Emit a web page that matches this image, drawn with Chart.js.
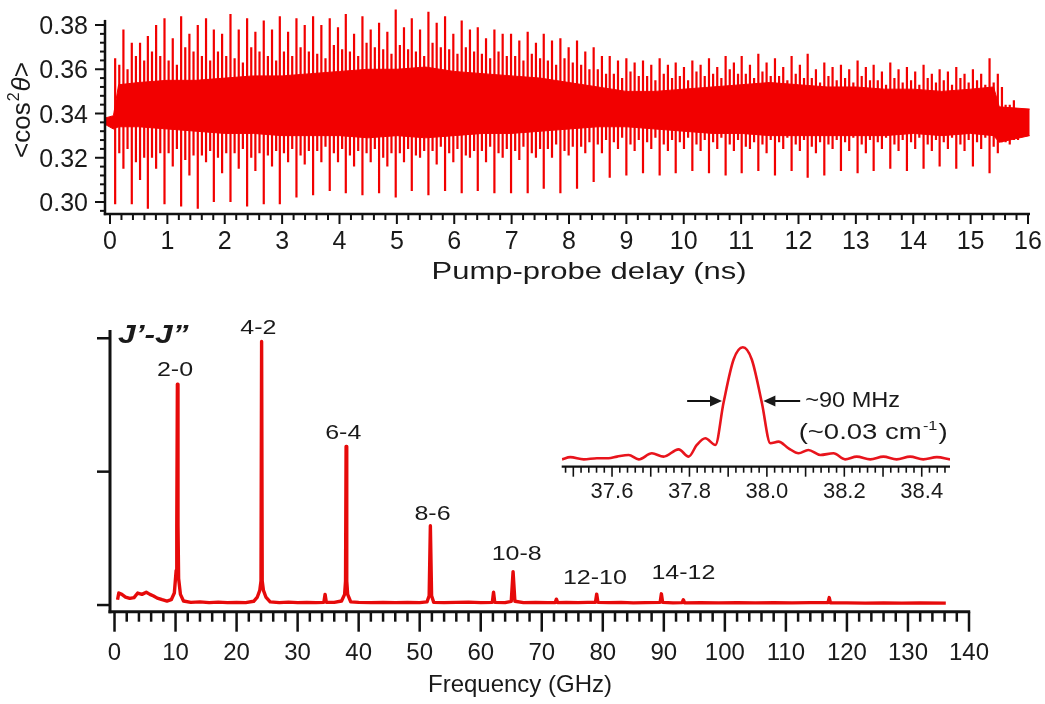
<!DOCTYPE html>
<html><head><meta charset="utf-8">
<script src="https://cdn.jsdelivr.net/npm/chart.js@4.4.1/dist/chart.umd.min.js"></script>
<style>
html,body{margin:0;padding:0;background:#fff;}
#wrap{position:relative;width:1045px;height:704px;overflow:hidden;background:#fff;}
canvas{position:absolute;}
</style></head><body>
<div id="wrap">
<canvas id="top" width="1045" height="300" style="left:0;top:0;width:1045px;height:300px"></canvas>
<canvas id="spec" width="1045" height="404" style="left:0;top:300px;width:1045px;height:404px"></canvas>
<canvas id="inset" width="440" height="190" style="left:540px;top:320px;width:440px;height:190px"></canvas>
</div>
<script>
// ---------- top panel: <cos^2 theta> vs pump-probe delay ----------
const topDelayTicks = [0,1,2,3,4,5,6,7,8,9,10,11,12,13,14,15,16];
const topCosTicks = [0.30,0.32,0.34,0.36,0.38];
const revivalTime = [0.09,0.38,0.66,0.95,1.24,1.53,1.81,2.10,2.39,2.68,2.96,3.25,3.54,3.83,4.11,4.40,4.69,4.98,5.26,5.55,5.84,6.13,6.41,6.70,6.99,7.28,7.56,7.85,8.14,8.43,8.71,9.00,9.29,9.58,9.86,10.15,10.44,10.73,11.01,11.30,11.59,11.88,12.16,12.45,12.74,13.03,13.31,13.60,13.89,14.18,14.46,14.75,15.04,15.33,15.61];
const fullHigh = [0.365,0.372,0.375,0.383,0.384,0.380,0.378,0.385,0.383,0.382,0.384,0.383,0.384,0.383,0.385,0.384,0.381,0.387,0.383,0.386,0.384,0.382,0.379,0.378,0.376,0.377,0.376,0.374,0.373,0.370,0.366,0.365,0.364,0.365,0.363,0.364,0.365,0.366,0.366,0.367,0.365,0.366,0.367,0.363,0.362,0.364,0.362,0.363,0.361,0.362,0.360,0.361,0.360,0.365,0.344];
const fullLow = [0.299,0.299,0.297,0.299,0.298,0.297,0.300,0.300,0.298,0.299,0.299,0.302,0.303,0.305,0.304,0.303,0.304,0.302,0.305,0.303,0.305,0.304,0.305,0.304,0.304,0.304,0.306,0.304,0.306,0.309,0.311,0.312,0.313,0.312,0.313,0.314,0.313,0.312,0.313,0.314,0.312,0.314,0.311,0.312,0.314,0.313,0.314,0.315,0.314,0.315,0.316,0.315,0.316,0.313,0.327];
const halfHigh = [0.378,0.372,0.380,0.374,0.376,0.383,0.376,0.378,0.377,0.378,0.377,0.380,0.380,0.379,0.376,0.378,0.377,0.379,0.378,0.381,0.376,0.378,0.374,0.376,0.373,0.372,0.373,0.370,0.368,0.366,0.364,0.363,0.362,0.362,0.361,0.362,0.361,0.363,0.362,0.363,0.361,0.362,0.360,0.361,0.360,0.361,0.359,0.360,0.359,0.358,0.359,0.358,0.358,0.358,0.346];
const halfLow = [0.315,0.310,0.315,0.316,0.312,0.318,0.313,0.315,0.314,0.316,0.318,0.317,0.318,0.318,0.316,0.318,0.316,0.318,0.320,0.317,0.318,0.320,0.318,0.320,0.319,0.320,0.320,0.321,0.322,0.322,0.324,0.323,0.324,0.323,0.324,0.323,0.324,0.323,0.324,0.322,0.324,0.323,0.322,0.324,0.323,0.322,0.324,0.323,0.324,0.323,0.324,0.323,0.324,0.322,0.328];
const quarterHigh = [0.362,0.366,0.368,0.364,0.370,0.366,0.368,0.365,0.370,0.366,0.368,0.370,0.367,0.371,0.368,0.372,0.369,0.371,0.368,0.372,0.369,0.370,0.367,0.368,0.366,0.367,0.364,0.365,0.362,0.360,0.358,0.359,0.357,0.358,0.357,0.359,0.358,0.360,0.358,0.359,0.357,0.358,0.356,0.357,0.356,0.357,0.355,0.356,0.355,0.356,0.355,0.356,0.355,0.354,0.344];
const quarterLow = [0.322,0.318,0.320,0.322,0.319,0.321,0.320,0.322,0.320,0.321,0.322,0.321,0.323,0.322,0.321,0.322,0.320,0.322,0.321,0.323,0.322,0.321,0.323,0.322,0.323,0.322,0.324,0.323,0.325,0.326,0.327,0.326,0.327,0.326,0.327,0.326,0.327,0.326,0.325,0.326,0.327,0.326,0.325,0.326,0.327,0.326,0.327,0.326,0.327,0.326,0.327,0.326,0.327,0.325,0.326];
const bandTime = [-0.08,0.06,0.15,0.5,1,1.5,2,2.5,3,3.5,4,4.5,5,5.5,6,6.5,7,7.5,8,8.5,9,9.5,10,10.5,11,11.5,12,12.5,13,13.5,14,14.5,15,15.4,15.5,16.03];
const bandTop = [0.338,0.339,0.353,0.354,0.355,0.355,0.356,0.357,0.357,0.358,0.359,0.360,0.360,0.361,0.359,0.358,0.357,0.356,0.354,0.352,0.350,0.350,0.351,0.352,0.353,0.354,0.353,0.352,0.352,0.351,0.351,0.350,0.351,0.352,0.343,0.342];
const bandBottom = [0.335,0.333,0.334,0.334,0.333,0.332,0.331,0.331,0.330,0.330,0.330,0.329,0.330,0.329,0.330,0.331,0.331,0.332,0.333,0.334,0.334,0.333,0.332,0.331,0.331,0.330,0.330,0.330,0.330,0.330,0.331,0.330,0.331,0.330,0.327,0.330];

// ---------- bottom panel: Fourier spectrum ----------
const specFreqTicks = [0,10,20,30,40,50,60,70,80,90,100,110,120,130,140];
const specAmpTicks = [0,0.5,1.0];
const specFreq = [0.5,0.7,1.2,1.8,2.5,3.2,3.8,4.5,5.2,5.8,6.4,7.0,7.8,8.6,9.3,9.8,10.1,10.2,10.3,10.4,10.5,10.8,11.3,12.5,14.0,15.5,17.0,18.5,20.0,21.5,22.8,23.4,23.8,24.0,24.1,24.2,24.4,24.8,25.5,27.0,28.5,30.0,31.5,33.0,34.3,34.5,34.7,36.0,37.2,37.7,37.85,37.94,38.05,38.2,38.7,40.0,42.0,44.0,46.0,48.0,50.0,51.2,51.55,51.75,51.95,52.3,54.0,56.0,58.0,60.0,61.9,62.1,62.3,64.0,65.0,65.3,65.6,67.0,69.0,71.0,72.2,72.4,72.6,74.0,76.0,77.5,78.8,79.0,79.2,81.0,83.0,85.0,87.0,89.4,89.6,89.8,91.5,93.0,93.2,93.4,96.0,99.0,102.0,105.0,108.0,111.0,114.0,116.9,117.1,117.3,120.0,123.0,126.0,129.0,132.0,136.2];
const specAmp = [0.020,0.045,0.040,0.030,0.025,0.028,0.045,0.040,0.048,0.040,0.034,0.026,0.020,0.015,0.020,0.045,0.130,0.300,0.828,0.300,0.100,0.040,0.015,0.010,0.012,0.009,0.011,0.009,0.010,0.009,0.014,0.030,0.055,0.090,0.988,0.090,0.055,0.030,0.012,0.009,0.011,0.009,0.010,0.009,0.010,0.040,0.010,0.010,0.015,0.040,0.090,0.594,0.090,0.040,0.012,0.010,0.009,0.010,0.009,0.010,0.009,0.012,0.035,0.297,0.035,0.010,0.009,0.010,0.011,0.009,0.010,0.048,0.010,0.009,0.014,0.125,0.014,0.009,0.010,0.009,0.009,0.022,0.009,0.010,0.009,0.010,0.010,0.041,0.010,0.009,0.010,0.008,0.009,0.010,0.042,0.010,0.008,0.009,0.020,0.008,0.009,0.008,0.009,0.008,0.009,0.008,0.009,0.009,0.028,0.008,0.008,0.007,0.008,0.007,0.008,0.007];
const peakLabels = ['2-0','4-2','6-4','8-6','10-8','12-10','14-12'];
const peakLabelFreq = [9.91,23.56,37.48,52.1,65.9,78.7,93.2];
const peakLabelAmp = [0.881,1.035,0.642,0.341,0.191,0.098,0.120];

// ---------- inset: 6-4 line ----------
const insetFreqTicks = [37.6,37.8,38.0,38.2,38.4];
const insetFreq = [37.471,37.492,37.527,37.561,37.591,37.613,37.643,37.669,37.703,37.733,37.772,37.798,37.819,37.841,37.867,37.888,37.914,37.938,37.961,37.987,38.009,38.030,38.056,38.082,38.107,38.138,38.172,38.202,38.232,38.267,38.301,38.335,38.370,38.404,38.439,38.473];
const insetAmp = [-0.01,0.01,-0.01,0.0,0.0,0.015,0.03,-0.01,0.045,0.015,0.08,0.015,0.12,0.18,0.12,0.5,0.89,1.0,0.89,0.5,0.136,0.15,0.09,0.045,0.075,0.03,0.045,-0.01,0.015,-0.01,0.015,-0.01,0.015,-0.01,0.01,-0.01];

// ---------- helpers ----------
const FONT = '"Liberation Sans", Arial, Helvetica, sans-serif';
const RED = '#f20000';
const INK = '#1a1a1a';
function seg(ctx, x1, y1, x2, y2) { ctx.beginPath(); ctx.moveTo(x1, y1); ctx.lineTo(x2, y2); ctx.stroke(); }
function txt(ctx, s, x, y, font, align, sx, base) {
  ctx.save(); ctx.font = font; ctx.textAlign = align || 'left'; ctx.textBaseline = base || 'alphabetic';
  ctx.translate(x, y); ctx.scale(sx || 1, 1); ctx.fillText(s, 0, 0); ctx.restore();
}
const common = { responsive: false, animation: false, devicePixelRatio: 1,
  plugins: { legend: { display: false }, tooltip: { enabled: false } } };

// spike table built from revival arrays
const spikePts = [];
revivalTime.forEach((t, k) => {
  const bars = [[t, fullLow[k], fullHigh[k]], [t + 0.072, quarterLow[k], quarterHigh[k]],
                [t + 0.144, halfLow[k], halfHigh[k]], [t + 0.216, quarterLow[k] + 0.002, quarterHigh[k] - 0.002]];
  bars.forEach(([x, lo, hi]) => { spikePts.push({x, y: lo}, {x, y: hi}, {x, y: null}); });
});

const TOP_AXIS_END = 0.3823;
const topAxes = {
  id: 'topAxes',
  afterDraw(chart) {
    const {ctx, chartArea: a, scales: {x, y}} = chart;
    ctx.save();
    ctx.strokeStyle = '#111'; ctx.fillStyle = INK;
    ctx.lineWidth = 2.5;
    seg(ctx, a.left, y.getPixelForValue(TOP_AXIS_END), a.left, a.bottom + 1.2);
    seg(ctx, a.left - 1.2, a.bottom, a.right, a.bottom);
    ctx.lineWidth = 2;
    for (let i = 74; i <= 95; i++) {
      const p = y.getPixelForValue(i * 0.004);
      seg(ctx, a.left, p, a.left - (i % 5 === 0 ? 10 : 5), p);
    }
    for (let i = 0; i <= 80; i++) {
      const p = x.getPixelForValue(i * 0.2);
      seg(ctx, p, a.bottom, p, a.bottom + (i % 5 === 0 ? 10 : 6));
    }
    const f = '25px ' + FONT;
    topCosTicks.forEach(v => txt(ctx, v.toFixed(2), a.left - 17, y.getPixelForValue(v) + 9, f, 'right'));
    topDelayTicks.forEach(v => txt(ctx, String(v), x.getPixelForValue(v), a.bottom + 35, f, 'center'));
    txt(ctx, 'Pump-probe delay (ns)', 589, 279, '24px ' + FONT, 'center', 1.29);
    // rotated y title <cos^2 theta>
    ctx.save();
    ctx.translate(30, 158); ctx.rotate(-Math.PI / 2);
    ctx.textBaseline = 'alphabetic'; ctx.textAlign = 'left';
    let cx = 0;
    ctx.font = '26px ' + FONT; ctx.fillText('<cos', cx, 0); cx += ctx.measureText('<cos').width;
    ctx.font = '16px ' + FONT; ctx.fillText('2', cx + 1, -11); cx += ctx.measureText('2').width + 2;
    ctx.font = 'italic 26px ' + FONT; ctx.fillText('θ', cx, 0); cx += ctx.measureText('θ').width;
    ctx.font = '26px ' + FONT; ctx.fillText('>', cx, 0);
    ctx.restore();
    ctx.restore();
  }
};

new Chart(document.getElementById('top'), {
  type: 'line',
  data: { datasets: [
    { data: bandTime.map((t, i) => ({x: t, y: bandBottom[i]})), borderColor: RED, borderWidth: 1, pointRadius: 0, fill: false },
    { data: bandTime.map((t, i) => ({x: t, y: bandTop[i]})), borderColor: RED, borderWidth: 1, pointRadius: 0, fill: '-1', backgroundColor: RED },
    { data: spikePts, borderColor: RED, borderWidth: 2.2, pointRadius: 0, spanGaps: false, fill: false }
  ]},
  options: Object.assign({}, common, {
    layout: { padding: { left: 105, top: 5, right: 15, bottom: 86 } },
    scales: {
      x: { type: 'linear', display: false, min: -0.087, max: 16.035 },
      y: { type: 'linear', display: false, min: 0.29458, max: 0.38904 }
    }
  }),
  plugins: [topAxes]
});

const specAxes = {
  id: 'specAxes',
  afterDraw(chart) {
    const {ctx, chartArea: a, scales: {x, y}} = chart;
    ctx.save();
    ctx.strokeStyle = '#111'; ctx.fillStyle = INK;
    ctx.lineWidth = 3;
    seg(ctx, a.left, a.top, a.left, a.bottom + 1.5);
    seg(ctx, a.left - 1.5, a.bottom, x.getPixelForValue(140) + 1.2, a.bottom);
    ctx.lineWidth = 2.5;
    specAmpTicks.forEach(v => { const p = y.getPixelForValue(v); seg(ctx, a.left, p, a.left - 13, p); });
    for (let i = 0; i <= 70; i++) {
      const p = x.getPixelForValue(i * 2);
      seg(ctx, p, a.bottom, p, a.bottom + (i % 5 === 0 ? 20 : 10));
    }
    specFreqTicks.forEach(v => txt(ctx, String(v), x.getPixelForValue(v), a.bottom + 48.3, '24px ' + FONT, 'center'));
    txt(ctx, 'Frequency (GHz)', 520, 391.7, '24px ' + FONT, 'center');
    peakLabels.forEach((s, i) => txt(ctx, s, x.getPixelForValue(peakLabelFreq[i]), y.getPixelForValue(peakLabelAmp[i]), '20px ' + FONT, 'center', 1.25, 'middle'));
    txt(ctx, 'J\u2019-J\u201D', x.getPixelForValue(0.57), y.getPixelForValue(0.982), 'italic bold 26px ' + FONT, 'left', 1.22);
    ctx.restore();
  }
};

new Chart(document.getElementById('spec'), {
  type: 'line',
  data: { datasets: [
    { data: specFreq.map((f, i) => ({x: f, y: specAmp[i]})), borderColor: '#e60a0a', borderWidth: 3.4, pointRadius: 0, borderJoinStyle: 'round', fill: false }
  ]},
  options: Object.assign({}, common, {
    layout: { padding: { left: 110, top: 30, right: 76, bottom: 92.3 } },
    scales: {
      x: { type: 'linear', display: false, min: -0.74, max: 140 },
      y: { type: 'linear', display: false, min: -0.025, max: 1.031 }
    }
  }),
  plugins: [specAxes]
});

function arrow(ctx, x1, y1, x2, y2) {
  const dir = Math.sign(x2 - x1);
  ctx.lineWidth = 2;
  seg(ctx, x1, y1, x2 - dir * 8, y2);
  ctx.beginPath(); ctx.moveTo(x2, y2); ctx.lineTo(x2 - dir * 12, y2 - 5.5); ctx.lineTo(x2 - dir * 12, y2 + 5.5); ctx.closePath(); ctx.fill();
}

const insetAxes = {
  id: 'insetAxes',
  afterDraw(chart) {
    const {ctx, chartArea: a, scales: {x, y}} = chart;
    ctx.save();
    ctx.strokeStyle = '#111'; ctx.fillStyle = INK;
    ctx.lineWidth = 2.2;
    seg(ctx, a.left, a.bottom, a.right, a.bottom);
    ctx.lineWidth = 1.6;
    for (let i = 1874; i <= 1923; i++) {
      const p = x.getPixelForValue(i * 0.02);
      seg(ctx, p, a.bottom, p, a.bottom + (i % 5 === 0 ? 10 : 6));
    }
    insetFreqTicks.forEach(v => txt(ctx, v.toFixed(1), x.getPixelForValue(v), a.bottom + 31.6, '22px ' + FONT, 'center'));
    const ya = y.getPixelForValue(0.516);
    arrow(ctx, x.getPixelForValue(37.794), ya, x.getPixelForValue(37.884), ya);
    arrow(ctx, x.getPixelForValue(38.086), ya, x.getPixelForValue(37.991), ya);
    txt(ctx, '~90 MHz', x.getPixelForValue(38.099), ya, '22px ' + FONT, 'left', 1.07, 'middle');
    // second line with superscript
    const y2 = y.getPixelForValue(0.25) + 8;
    ctx.save();
    ctx.translate(x.getPixelForValue(38.082), y2); ctx.scale(1.25, 1);
    ctx.textBaseline = 'alphabetic'; ctx.textAlign = 'left';
    let cx = 0;
    ctx.font = '22px ' + FONT; ctx.fillText('(~0.03 cm', 0, 0); cx = ctx.measureText('(~0.03 cm').width;
    ctx.font = '13px ' + FONT; ctx.fillText('-1', cx + 1, -9); cx += ctx.measureText('-1').width + 2;
    ctx.font = '22px ' + FONT; ctx.fillText(')', cx, 0);
    ctx.restore();
    ctx.restore();
  }
};

new Chart(document.getElementById('inset'), {
  type: 'line',
  data: { datasets: [
    { data: insetFreq.map((f, i) => ({x: f, y: insetAmp[i]})), borderColor: '#e8141c', borderWidth: 2.6, pointRadius: 0, cubicInterpolationMode: 'monotone', borderJoinStyle: 'round', fill: false }
  ]},
  options: Object.assign({}, common, {
    layout: { padding: { left: 21.7, top: 20, right: 30, bottom: 43.3 } },
    scales: {
      x: { type: 'linear', display: false, min: 37.47, max: 38.473 },
      y: { type: 'linear', display: false, min: -0.076, max: 1.066 }
    }
  }),
  plugins: [insetAxes]
});
</script>
</body></html>
